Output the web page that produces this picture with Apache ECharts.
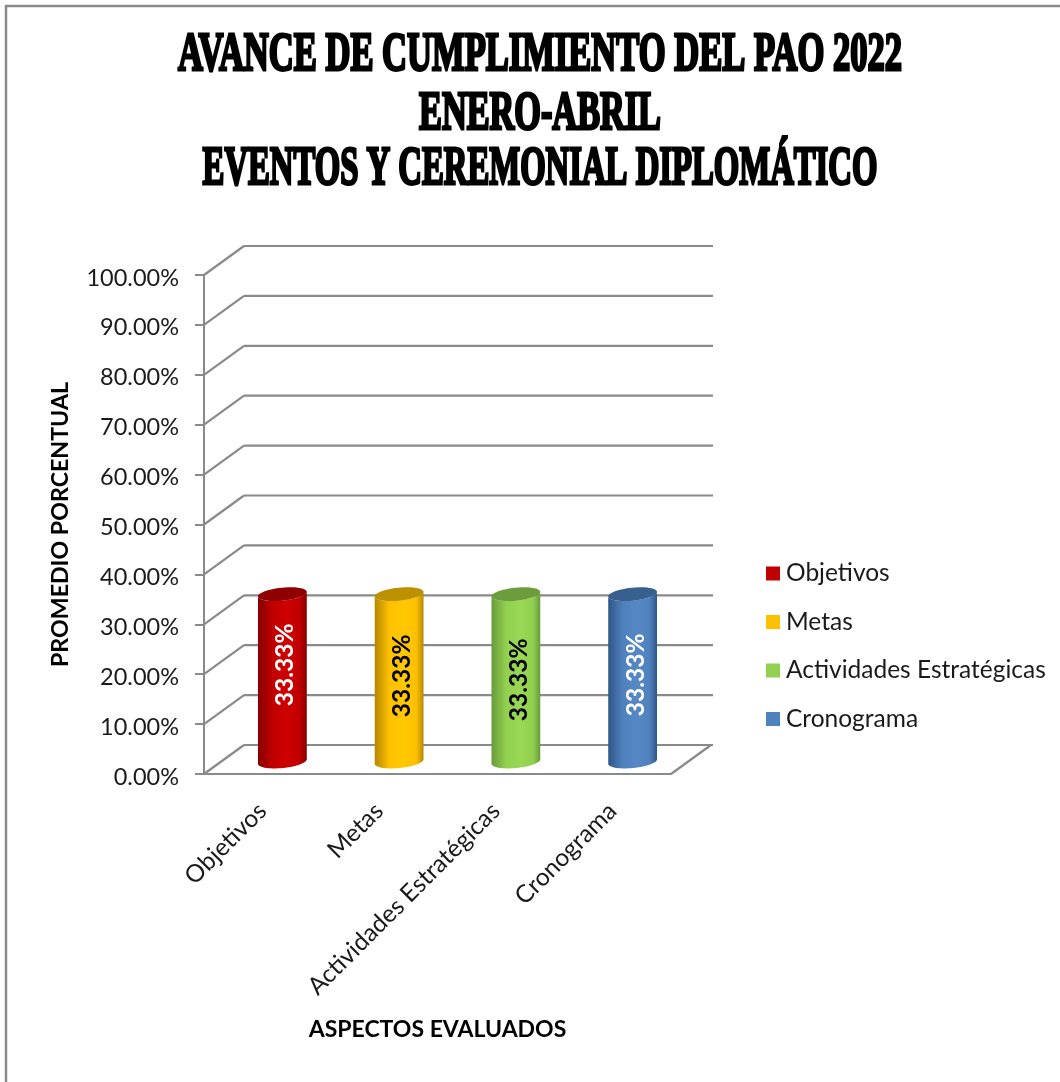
<!DOCTYPE html>
<html>
<head>
<meta charset="utf-8">
<title>Avance de cumplimiento del PAO 2022</title>
<script src="https://cdn.jsdelivr.net/npm/echarts@6/dist/echarts.min.js"></script>
<style>
  html, body { margin: 0; padding: 0; background: #fff; }
  #chart { width: 1060px; height: 1082px; }
</style>
</head>
<body>
<div id="chart"></div>
<script>
// Chart data
const titleLines = ['AVANCE DE CUMPLIMIENTO DEL PAO 2022', 'ENERO-ABRIL', 'EVENTOS Y CEREMONIAL DIPLOMÁTICO'];
const categories = ['Objetivos', 'Metas', 'Actividades Estratégicas', 'Cronograma'];
const seriesNames = ['Objetivos', 'Metas', 'Actividades Estratégicas', 'Cronograma'];
const values = [33.33, 33.33, 33.33, 33.33];
const yTicks = [0, 10, 20, 30, 40, 50, 60, 70, 80, 90, 100];

// Cylinder and label appearance, one entry per series
const palette = [
  { base: '#c00000', mid: '#cf0000', edge: '#860000', top: '#8f0000', text: '#ffffff' },
  { base: '#ffc000', mid: '#ffc800', edge: '#b58800', top: '#bd9000', text: '#000000' },
  { base: '#92d050', mid: '#98d855', edge: '#6a9a3a', top: '#6d9c3c', text: '#000000' },
  { base: '#4f81bd', mid: '#5688c6', edge: '#2f5686', top: '#38608f', text: '#ffffff' }
];
const labelLift = [-14, -3, 1, -4];

// Pseudo-3D settings
const depth = { x: 40, y: -29 };
const lineColor = '#8a8a8a';
const uiFont = 'Lato, "Noto Sans", sans-serif';

function ellipsePoints(cx, cy, rx, ry, tilt, from, to, n) {
  const pts = [];
  for (let i = 0; i <= n; i++) {
    const t = from + (to - from) * i / n;
    pts.push([
      cx + rx * Math.cos(t) * Math.cos(tilt) - ry * Math.sin(t) * Math.sin(tilt),
      cy + rx * Math.cos(t) * Math.sin(tilt) + ry * Math.sin(t) * Math.cos(tilt)
    ]);
  }
  return pts;
}

// Back wall, floor and the diagonals joining them to the front axes
function renderWalls(params, api) {
  const v = api.value(0);
  const front = api.coord([0, v]);
  const band = api.size([1, 0])[0];
  const x0 = front[0] - band / 2;
  const x1 = x0 + band * categories.length;
  const style = { stroke: lineColor, lineWidth: 2.2, fill: null };
  const children = [
    { type: 'line', shape: { x1: x0, y1: front[1], x2: x0 + depth.x, y2: front[1] + depth.y }, style },
    { type: 'line', shape: { x1: x0 + depth.x, y1: front[1] + depth.y, x2: x1 + depth.x + 2, y2: front[1] + depth.y }, style }
  ];
  if (v === 0) {
    children.push({ type: 'line', shape: { x1: x1, y1: front[1], x2: x1 + depth.x, y2: front[1] + depth.y }, style });
  }
  return { type: 'group', children };
}

function renderCylinder(params, api) {
  const s = params.seriesIndex - 1;
  const look = palette[s];
  const top = api.coord([api.value(0), api.value(1)]);
  const base = api.coord([api.value(0), 0]);
  const rx = api.size([1, 0])[0] * 0.21;
  const ry = 6.5;
  const tilt = -0.1;
  const cx = top[0] + depth.x / 2;
  const yTop = top[1] + depth.y / 2 + 1;
  const yBase = base[1] + depth.y / 2 + 2;
  const body = ellipsePoints(cx, yBase, rx, ry, tilt, Math.PI, 0, 30)
    .concat(ellipsePoints(cx, yTop, rx, ry, tilt, 0, Math.PI, 30));
  const shade = {
    type: 'linear', x: 0, y: 0, x2: 1, y2: 0,
    colorStops: [
      { offset: 0, color: look.edge },
      { offset: 0.3, color: look.base },
      { offset: 0.6, color: look.mid },
      { offset: 0.85, color: look.base },
      { offset: 1, color: look.edge }
    ]
  };
  return {
    type: 'group',
    children: [
      { type: 'polygon', shape: { points: body }, style: { fill: shade } },
      {
        type: 'polygon',
        shape: { points: ellipsePoints(cx, yTop, rx, ry, tilt, 0, Math.PI * 2, 48) },
        style: { fill: look.top }
      },
      {
        type: 'text',
        x: cx + 3,
        y: (yTop + yBase) / 2 + labelLift[s] + 1,
        rotation: Math.PI / 2,
        style: {
          text: api.value(1).toFixed(2) + '%',
          font: 'bold 24.5px ' + uiFont,
          fill: look.text,
          textAlign: 'center',
          textVerticalAlign: 'middle'
        }
      }
    ]
  };
}

const cylinderSeries = seriesNames.map((name, i) => ({
  name,
  type: 'custom',
  z: 5,
  coordinateSystem: 'cartesian2d',
  itemStyle: { color: palette[i].base },
  renderItem: renderCylinder,
  encode: { x: 0, y: 1 },
  data: [[i, values[i]]]
}));

const titleFits = [
  { y: 56.5, sx: 0.64 },
  { y: 115, sx: 0.635 },
  { y: 170, sx: 0.606 }
];

const chart = echarts.init(document.getElementById('chart'), null, { renderer: 'canvas' });
chart.setOption({
  animation: false,
  backgroundColor: '#ffffff',
  grid: { left: 204, top: 275, width: 467, height: 499 },
  xAxis: {
    type: 'category',
    data: categories,
    name: 'ASPECTOS EVALUADOS',
    nameLocation: 'middle',
    nameGap: 244,
    nameTextStyle: { fontFamily: uiFont, fontWeight: 'bold', fontSize: 23, color: '#000' },
    axisLine: { lineStyle: { color: lineColor, width: 2 } },
    axisTick: { length: 11, lineStyle: { color: lineColor, width: 2 } },
    axisLabel: {
      rotate: 45,
      margin: 33,
      interval: 0,
      fontFamily: uiFont,
      fontSize: 24.5,
      color: '#1a1a1a'
    }
  },
  yAxis: {
    type: 'value',
    min: 0,
    max: 100,
    interval: 10,
    name: 'PROMEDIO PORCENTUAL',
    nameLocation: 'middle',
    nameGap: 132,
    nameRotate: 90,
    nameTextStyle: { fontFamily: uiFont, fontWeight: 'bold', fontSize: 23.2, color: '#000' },
    axisLine: { show: true, lineStyle: { color: lineColor, width: 2 } },
    axisTick: { show: true, length: 9, lineStyle: { color: lineColor, width: 2 } },
    splitLine: { show: false },
    axisLabel: {
      margin: 25,
      verticalAlign: 'top',
      padding: [-9, 0, 0, 0],
      fontFamily: uiFont,
      fontSize: 23.5,
      color: '#1a1a1a',
      formatter: v => v.toFixed(2) + '%'
    }
  },
  legend: {
    orient: 'vertical',
    left: 761,
    top: 556,
    icon: 'rect',
    itemWidth: 14,
    itemHeight: 14,
    itemGap: 23.5,
    data: seriesNames,
    selectedMode: false,
    textStyle: { fontFamily: uiFont, fontSize: 24.5, color: '#1a1a1a', padding: [0, 0, 0, 1] }
  },
  series: [
    {
      type: 'custom',
      name: 'walls',
      z: 1,
      silent: true,
      coordinateSystem: 'cartesian2d',
      renderItem: renderWalls,
      encode: { y: 0 },
      data: yTicks.map(v => [v])
    }
  ].concat(cylinderSeries),
  graphic: [
    {
      type: 'polyline',
      silent: true,
      shape: { points: [[6, 1082], [6, 6], [1060, 6]] },
      style: { stroke: '#8a8a8a', lineWidth: 2.5, fill: null }
    }
  ].concat(titleLines.map((line, i) => ({
    type: 'text',
    silent: true,
    x: 540,
    y: titleFits[i].y,
    scaleX: titleFits[i].sx,
    style: {
      text: line,
      font: 'bold 54px "Liberation Serif", serif',
      fill: '#000',
      stroke: '#000',
      lineWidth: 3,
      textAlign: 'center',
      textVerticalAlign: 'middle'
    }
  })))
});
</script>
</body>
</html>
